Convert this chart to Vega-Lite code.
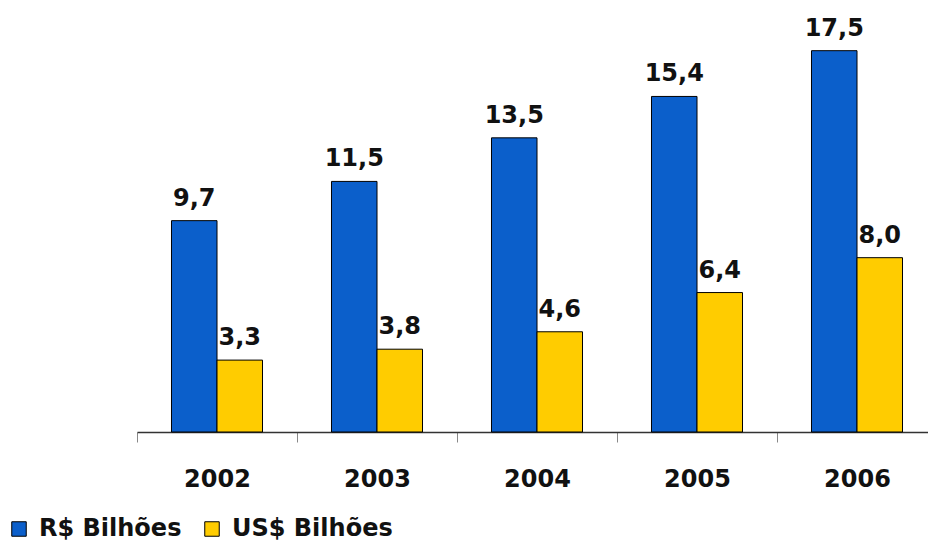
{
  "$schema": "https://vega.github.io/schema/vega-lite/v6.json",
  "width": 800,
  "height": 414,
  "autosize": "none",
  "padding": {"left": 137, "top": 18, "right": 0, "bottom": 119},
  "background": "white",
  "config": {
    "view": {"stroke": null},
    "locale": {"number": {"decimal": ",", "thousands": ".", "grouping": [3], "currency": ["R$", ""]}}
  },
  "data": {
    "values": [
      {"year": "2002", "series": "R$ Bilhões", "value": 9.7},
      {"year": "2002", "series": "US$ Bilhões", "value": 3.3},
      {"year": "2003", "series": "R$ Bilhões", "value": 11.5},
      {"year": "2003", "series": "US$ Bilhões", "value": 3.8},
      {"year": "2004", "series": "R$ Bilhões", "value": 13.5},
      {"year": "2004", "series": "US$ Bilhões", "value": 4.6},
      {"year": "2005", "series": "R$ Bilhões", "value": 15.4},
      {"year": "2005", "series": "US$ Bilhões", "value": 6.4},
      {"year": "2006", "series": "R$ Bilhões", "value": 17.5},
      {"year": "2006", "series": "US$ Bilhões", "value": 8.0}
    ]
  },
  "encoding": {
    "x": {
      "field": "year",
      "type": "nominal",
      "title": null,
      "scale": {"paddingInner": 0, "paddingOuter": 0},
      "axis": {
        "labelAngle": 0,
        "domainColor": "#333333",
        "domainWidth": 1.5,
        "tickBand": "extent",
        "tickColor": "#888888",
        "tickSize": 10,
        "labelBaseline": "alphabetic",
        "labelPadding": 44,
        "labelFont": "DejaVu Sans",
        "labelFontWeight": "bold",
        "labelFontSize": 24,
        "labelColor": "#111111"
      }
    },
    "xOffset": {
      "field": "series",
      "type": "nominal",
      "scale": {"paddingInner": 0, "paddingOuter": 0.758}
    },
    "y": {
      "field": "value",
      "type": "quantitative",
      "scale": {"domain": [0, 19]},
      "axis": null
    }
  },
  "layer": [
    {
      "mark": {"type": "bar", "stroke": "#000000", "strokeWidth": 1},
      "encoding": {
        "color": {
          "field": "series",
          "type": "nominal",
          "scale": {"domain": ["R$ Bilhões", "US$ Bilhões"], "range": ["#0B5FCB", "#FFCC00"]},
          "legend": {
            "orient": "none",
            "legendX": -130,
            "legendY": 499,
            "direction": "horizontal",
            "title": null,
            "symbolType": "square",
            "symbolSize": 210,
            "symbolStrokeColor": "#000000",
            "symbolStrokeWidth": 1,
            "symbolOpacity": 1,
            "labelFont": "DejaVu Sans",
            "labelFontWeight": "bold",
            "labelFontSize": 24,
            "labelColor": "#111111",
            "labelOffset": 8,
            "columnPadding": 18,
            "labelLimit": 300
          }
        }
      }
    },
    {
      "mark": {
        "type": "text",
        "dy": -15,
        "baseline": "alphabetic",
        "font": "DejaVu Sans",
        "fontWeight": "bold",
        "fontSize": 24,
        "color": "#111111"
      },
      "encoding": {
        "text": {"field": "value", "type": "quantitative", "format": ".1f"}
      }
    }
  ]
}
